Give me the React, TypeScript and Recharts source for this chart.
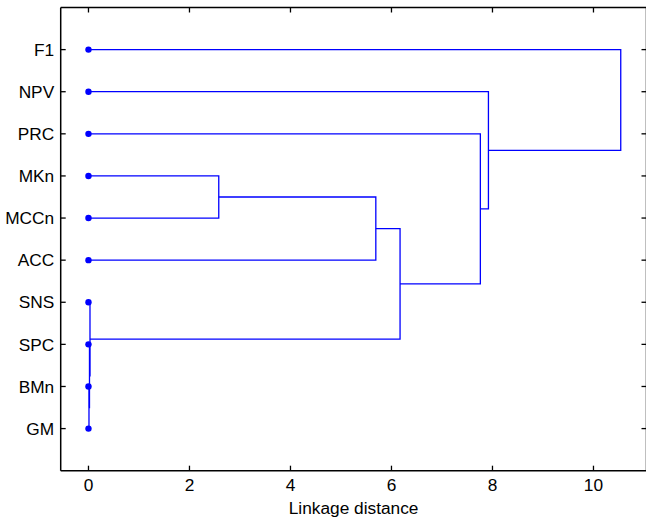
import { Scatter, ScatterChart, XAxis, YAxis } from 'recharts';

// leaf order, top to bottom
const leaves = ['F1', 'NPV', 'PRC', 'MKn', 'MCCn', 'ACC', 'SNS', 'SPC', 'BMn', 'GM'];

// linkage rows: [left node, right node, distance]; ids >= leaves.length are earlier merges
const merges: [number, number, number][] = [
  [8, 9, 0.01],
  [7, 10, 0.02],
  [6, 11, 0.03],
  [3, 4, 2.58],
  [13, 5, 5.69],
  [14, 12, 6.17],
  [2, 15, 7.76],
  [1, 16, 7.92],
  [0, 17, 10.54]
];

const xTicks = [0, 2, 4, 6, 8, 10];
const yTicks = leaves.map((_, i) => i + 1);

const BLUE = '#0000ff';
const FONT = '"Liberation Sans", Arial, sans-serif';
const FS = 17.3;

const xDomain = [-0.55, 11.05];
const yDomain = [0, 11];

// node positions (x = merge height, y = leaf slot) and the U-shaped links
const nodes: { x: number; y: number }[] = leaves.map((_, i) => ({ x: 0, y: i + 1 }));
const links = merges.map(([a, b, d]) => {
  const na = nodes[a];
  const nb = nodes[b];
  nodes.push({ x: d, y: (na.y + nb.y) / 2 });
  return [
    { x: na.x, y: na.y },
    { x: d, y: na.y },
    { x: d, y: nb.y },
    { x: nb.x, y: nb.y }
  ];
});
const leafPoints = leaves.map((name, i) => ({ name, x: 0, y: i + 1 }));

// tick anchor points on the left and bottom frame edges
const leftTickPoints = yTicks.map((v) => ({ x: xDomain[0], y: v }));
const bottomTickPoints = xTicks.map((v) => ({ x: v, y: yDomain[1] }));

const BottomTick = (props: any) => {
  const { x, y, payload } = props;
  return (
    <text x={x} y={y + 20.4} textAnchor="middle" fontSize={FS} fontFamily={FONT} fill="#000">
      {payload.value}
    </text>
  );
};

const LeftTick = (props: any) => {
  const { x, y, payload } = props;
  return (
    <text x={x - 6.5} y={y + 6.2} textAnchor="end" fontSize={FS} fontFamily={FONT} fill="#000">
      {leaves[payload.value - 1]}
    </text>
  );
};

const TopTick = (props: any) => {
  const { x, y } = props;
  return <path d={`M${x},${y}V${y + 5}`} stroke="#000" strokeWidth={1.3} fill="none" />;
};

const RightTick = (props: any) => {
  const { x, y } = props;
  return <path d={`M${x},${y}H${x - 5}`} stroke="#000" strokeWidth={1.3} fill="none" />;
};

const axisLine = { stroke: '#000', strokeWidth: 1.5 };

export default function App() {
  return (
    <div style={{ position: 'absolute', left: 0, top: 0, width: 646, height: 520, overflow: 'hidden', background: '#fff' }}>
      <ScatterChart width={648} height={520} margin={{ top: 6.5, right: 0.5, bottom: 0, left: 0 }}>
        <XAxis
          xAxisId="bottom"
          type="number"
          dataKey="x"
          domain={xDomain}
          ticks={xTicks}
          height={49.3}
          tickSize={0}
          tickMargin={0}
          tickLine={false}
          axisLine={axisLine}
          tick={<BottomTick />}
          interval={0}
          label={{ value: 'Linkage distance', position: 'insideBottom', offset: 6.5, fontSize: FS, fontFamily: FONT, fill: '#000' }}
        />
        <XAxis
          xAxisId="top"
          orientation="top"
          type="number"
          dataKey="x"
          domain={xDomain}
          ticks={xTicks}
          height={1}
          tickSize={0}
          tickMargin={0}
          tickLine={false}
          axisLine={axisLine}
          tick={<TopTick />}
          interval={0}
        />
        <YAxis
          yAxisId="left"
          type="number"
          dataKey="y"
          domain={yDomain}
          reversed
          ticks={yTicks}
          width={60.7}
          tickSize={0}
          tickMargin={0}
          tickLine={false}
          axisLine={axisLine}
          tick={<LeftTick />}
          interval={0}
        />
        <YAxis
          yAxisId="right"
          orientation="right"
          type="number"
          dataKey="y"
          domain={yDomain}
          reversed
          ticks={yTicks}
          width={1}
          tickSize={0}
          tickMargin={0}
          tickLine={false}
          axisLine={axisLine}
          tick={<RightTick />}
          interval={0}
        />
        <Scatter xAxisId="bottom" yAxisId="left" data={leafPoints} shape={() => <g />} isAnimationActive={false} />
        {links.map((pts, i) => (
          <Scatter
            key={i}
            xAxisId="top"
            yAxisId="right"
            data={pts}
            line={{ stroke: BLUE, strokeWidth: 1.3 }}
            lineType="joint"
            shape={() => <g />}
            isAnimationActive={false}
          />
        ))}
        <Scatter
          xAxisId="top"
          yAxisId="right"
          data={leftTickPoints}
          shape={(p: any) => <path d={`M${p.cx},${p.cy}H${p.cx + 5}`} stroke="#000" strokeWidth={1.3} fill="none" />}
          isAnimationActive={false}
        />
        <Scatter
          xAxisId="top"
          yAxisId="right"
          data={bottomTickPoints}
          shape={(p: any) => <path d={`M${p.cx},${p.cy}V${p.cy - 5}`} stroke="#000" strokeWidth={1.3} fill="none" />}
          isAnimationActive={false}
        />
        <Scatter
          xAxisId="top"
          yAxisId="right"
          data={leafPoints}
          shape={(p: any) => <circle cx={p.cx} cy={p.cy} r={3.2} fill={BLUE} />}
          isAnimationActive={false}
        />
      </ScatterChart>
    </div>
  );
}
